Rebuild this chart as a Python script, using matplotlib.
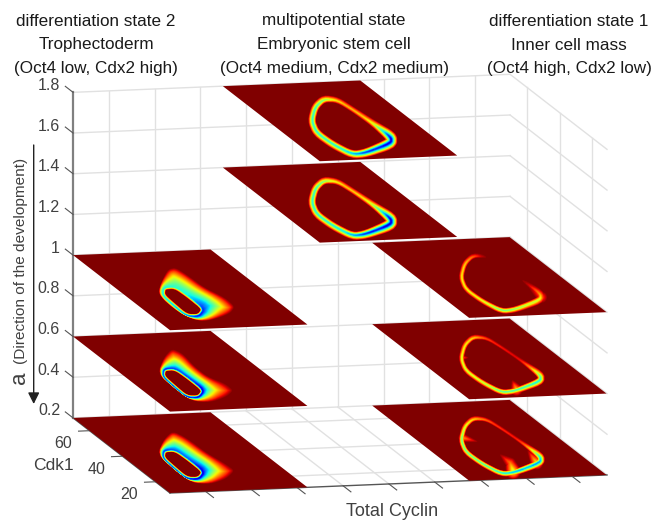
"""Potential landscape slices along the development parameter a.
"""
import matplotlib
matplotlib.use("Agg")
import matplotlib.pyplot as plt
import numpy as np
from matplotlib.patches import FancyArrowPatch
from matplotlib.path import Path
from mpl_toolkits.mplot3d import proj3d

plt.rcParams["font.family"] = ["Liberation Sans", "DejaVu Sans"]

# axis ticks and limits
x_ticks = [1, 2, 3, 4, 5, 6, 7, 8, 9]
y_ticks = [20, 40, 60]
z_ticks = [0.2, 0.4, 0.6, 0.8, 1.0, 1.2, 1.4, 1.6, 1.8]
z_labels = ["0.2", "0.4", "0.6", "0.8", "1", "1.2", "1.4", "1.6", "1.8"]
x_lim = (0.22, 9.76)
y_lim = (11.2, 70.0)

# where the slices start on the Total Cyclin axis (each one is 3 wide)
col_start = {"left": 0.22, "mid": 3.49, "right": 6.75}

# cycle of the stem cell / inner cell mass states, as fraction of a slice
cycle_u = [.581, .453, .307, .234, .242, .288, .396, .655, .707, .703, .688, .665]
cycle_v = [.781, .687, .517, .365, .208, .070, .085, .194, .266, .446, .626, .762]

# band widths below are in pixels of the picture
mid18_depth = [.48, .36, .35, .35, .35, .28, .12, .03, .06, .60, .68, .65]
mid14_depth = [.48, .36, .34, .34, .34, .26, .10, .02, .04, .55, .66, .63]
mid_out = [4.5, 4.5, 4.5, 4.5, 4.5, 4.5, 5.0, 6.5, 6.5, 4.0, 3.2, 3.5]
mid_in = [3.0, 3.5, 3.5, 3.5, 3.5, 3.5, 4.0, 5.5, 5.5, 3.0, 2.5, 2.5]

right10_depth = [.78, .64, .60, .60, .58, .42, .48, .55, .72, 1.0, 1.0, 1.0]
right06_depth = [.64, .60, .56, .54, .54, .40, .38, .30, .45, .88, .86, .82]
right02_depth = [.64, .55, .42, .42, .40, .34, .24, .20, .34, .84, .84, .78]
right_out = [3.5, 3.2, 3.0, 3.0, 3.0, 3.2, 3.5, 4.5, 4.5, 2.5, 2.2, 2.5]
right_in = [2.0, 2.4, 2.4, 2.4, 2.4, 2.4, 2.6, 3.2, 3.2, 1.8, 1.6, 1.8]

# spurs on the right column: tc, cdk, depth, half width
spurs10 = [([.686, .689], [.223, .380], [.80, 1.0], [6.0, 1.0])]
spurs06 = [([.337, .371], [.529, .525], [.85, 1.0], [2.5, 0.8]),
           ([.414, .472], [.098, .228], [.66, 1.0], [6.5, 1.2])]
spurs02 = [([.338, .413], [.547, .483], [.72, 1.0], [4.5, 0.8]),
           ([.388, .442, .447], [.095, .203, .329], [.55, .76, 1.0], [8.0, 6.0, 0.8]),
           ([.626, .680], [.191, .367], [.62, 1.0], [7.0, 1.0])]

# trophectoderm state: valley round the hole and the outer rim of the basin
hole_u = [.338, .423, .432, .428, .325, .241, .250, .262]
hole_v = [.543, .547, .425, .255, .162, .171, .325, .445]
hole_in = [2.2, 2.2, 2.2, 2.2, 2.2, 2.2, 2.2, 2.2]

left10_depth = [.35, .40, .35, .15, .10, .20, .30, .33]
left06_depth = [.08, .15, .15, .03, .02, .04, .08, .08]
left02_depth = [.12, .20, .20, .05, .02, .06, .10, .10]

left10_rim_u = [.252, .384, .531, .600, .615, .620, .675, .665, .560, .365, .275, .225, .222]
left10_rim_v = [.480, .630, .775, .795, .705, .525, .385, .265, .172, .100, .105, .195, .360]
left06_rim_u = [.257, .435, .580, .612, .575, .575, .640, .635, .520, .359, .245, .240]
left06_rim_v = [.489, .685, .805, .735, .560, .424, .330, .235, .150, .092, .125, .305]
left02_rim_u = [.262, .432, .575, .610, .615, .650, .655, .515, .356, .243, .238]
left02_rim_v = [.500, .680, .790, .695, .490, .345, .250, .145, .088, .120, .300]

GRID = 280
uu, vv = np.meshgrid(np.linspace(0, 1, GRID), np.linspace(0, 1, GRID))
uu = uu.astype(np.float32)
vv = vv.astype(np.float32)
grid_pts = np.column_stack([uu.ravel(), vv.ravel()])


def to_slice_px(u, v):
    # a slice as it looks on screen, so widths are the same all round the loop
    return 138 * u - 97 * v, 5.5 * u + 72 * v


def smooth_closed(*cols, rounds=2, step=8, cut=0.2):
    """Round off a closed outline, carrying the extra columns along."""
    pts = np.column_stack(cols).astype(float)
    for _ in range(rounds):
        nxt = np.roll(pts, -1, axis=0)
        pair = [(1 - cut) * pts + cut * nxt, cut * pts + (1 - cut) * nxt]
        pts = np.stack(pair, axis=1).reshape(-1, pts.shape[1])
    nxt = np.roll(pts, -1, axis=0)
    fine = [pts + (nxt - pts) * t for t in np.arange(step) / step]
    return np.stack(fine, axis=1).reshape(-1, pts.shape[1])


def nearest(path_u, path_v):
    gx, gy = to_slice_px(uu, vv)
    px, py = to_slice_px(np.asarray(path_u), np.asarray(path_v))
    dist = np.hypot(gx[..., None] - px.astype(np.float32), gy[..., None] - py.astype(np.float32))
    return dist.argmin(axis=-1), dist.min(axis=-1)


def band_field(u, v, depth, w_out, w_in, spurs=()):
    loop = smooth_closed(u, v, depth, w_out, w_in)
    idx, dist = nearest(loop[:, 0], loop[:, 1])
    inside = Path(loop[:, :2]).contains_points(grid_pts).reshape(uu.shape)
    width = np.where(inside, loop[idx, 4], loop[idx, 3])
    low = loop[idx, 2]
    field = low + (1 - low) * np.clip(dist / width, 0, 1)
    for su, sv, sd, sw in spurs:
        t = np.linspace(0, len(su) - 1, 60)
        k = np.arange(len(su))
        line_u, line_v = np.interp(t, k, su), np.interp(t, k, sv)
        line_d, line_w = np.interp(t, k, sd), np.interp(t, k, sw)
        i2, d2 = nearest(line_u, line_v)
        spur = line_d[i2] + (1 - line_d[i2]) * np.clip(d2 / line_w[i2], 0, 1)
        field = np.minimum(field, spur)
    return field


def basin_field(u, v, depth, w_in, rim_u, rim_v, power):
    loop = smooth_closed(u, v, depth, w_in)
    rim = smooth_closed(rim_u, rim_v)
    idx, d_hole = nearest(loop[:, 0], loop[:, 1])
    _, d_rim = nearest(rim[:, 0], rim[:, 1])
    in_hole = Path(loop[:, :2]).contains_points(grid_pts).reshape(uu.shape)
    in_rim = Path(rim[:, :2]).contains_points(grid_pts).reshape(uu.shape)
    low = loop[idx, 2]
    t = d_hole / (d_hole + d_rim + 1e-6)
    field = low + (1 - low) * t ** power
    inner = low + (1 - low) * np.clip(d_hole / loop[idx, 3], 0, 1)
    field = np.where(in_hole, inner, field)
    return np.where(in_rim | in_hole, field, 1.0)


slices = [
    ("left", 0.2, basin_field(hole_u, hole_v, left02_depth, hole_in, left02_rim_u, left02_rim_v, 1.05)),
    ("right", 0.2, band_field(cycle_u, cycle_v, right02_depth, right_out, right_in, spurs02)),
    ("left", 0.6, basin_field(hole_u, hole_v, left06_depth, hole_in, left06_rim_u, left06_rim_v, .85)),
    ("right", 0.6, band_field(cycle_u, cycle_v, right06_depth, right_out, right_in, spurs06)),
    ("left", 1.0, basin_field(hole_u, hole_v, left10_depth, hole_in, left10_rim_u, left10_rim_v, 1.5)),
    ("right", 1.0, band_field(cycle_u, cycle_v, right10_depth, right_out, right_in, spurs10)),
    ("mid", 1.4, band_field(cycle_u, cycle_v, mid14_depth, mid_out, mid_in)),
    ("mid", 1.8, band_field(cycle_u, cycle_v, mid18_depth, mid_out, mid_in)),
]

W, H = 655, 521
fig = plt.figure(figsize=(W / 100, H / 100), dpi=100)
SIDE = 760
ax = fig.add_axes([(340 - SIDE / 2) / W, (H - 283.5 - SIDE / 2) / H, SIDE / W, SIDE / H],
                  projection="3d", computed_zorder=False)
ax.set_proj_type("ortho")
ax.view_init(elev=10.3, azim=-103)
ax.set_xlim(*x_lim, view_margin=0)
ax.set_ylim(*y_lim, view_margin=0)
ax.set_zlim(z_ticks[0], z_ticks[-1], view_margin=0)
box = (448.6, 431.0, 331.0)
ax.set_box_aspect(box)
ax.set_axis_off()


def to_px(x, y, z):
    ax.apply_aspect()
    xs, ys, _ = proj3d.proj_transform(x, y, z, ax.get_proj())
    return ax.transData.transform((xs, ys))


# scale and shift so the box lands where it sits in the picture
x0, x1 = x_lim
y0, y1 = y_lim
z0, z1 = z_ticks[0], z_ticks[-1]
span = to_px(x1, y0, z0)[0] - to_px(x0, y0, z0)[0]
ax.set_box_aspect(box, zoom=437 / span)
off = np.array([170, H - 493]) - to_px(x0, y0, z0)
pos = ax.get_position(original=True)
ax.set_position([pos.x0 + off[0] / W, pos.y0 + off[1] / H, pos.width, pos.height])

GRID_C = "#e1e1e1"
for x in x_ticks:
    ax.plot([x, x], [y0, y1], [z0, z0], color=GRID_C, lw=1, zorder=1)
    ax.plot([x, x], [y1, y1], [z0, z1], color=GRID_C, lw=1, zorder=1)
for y in y_ticks:
    ax.plot([x0, x1], [y, y], [z0, z0], color=GRID_C, lw=1, zorder=1)
    ax.plot([x1, x1], [y, y], [z0, z1], color=GRID_C, lw=1, zorder=1)
for z in z_ticks:
    ax.plot([x0, x1], [y1, y1], [z, z], color=GRID_C, lw=1, zorder=1)
    ax.plot([x1, x1], [y0, y1], [z, z], color=GRID_C, lw=1, zorder=1)

AXIS_C = "#555555"
ax.plot([x0, x1], [y0, y0], [z0, z0], color=AXIS_C, lw=1, zorder=2)
ax.plot([x0, x0], [y0, y1], [z0, z0], color=AXIS_C, lw=1, zorder=2)
ax.plot([x0, x0], [y1, y1], [z0, z1], color="#808080", lw=1.6, zorder=2)
for x in x_ticks:
    ax.plot([x, x], [y0, y0 - 4.7], [z0, z0], color=AXIS_C, lw=0.8, zorder=2)
for y in y_ticks:
    ax.plot([x0, x0 - 0.24], [y, y], [z0, z0], color=AXIS_C, lw=0.8, zorder=2)
for z in z_ticks:
    ax.plot([x0, x0], [y1, y1 + 4.7], [z, z], color=AXIS_C, lw=0.8, zorder=2)

# each level is painted as a whole region over the one before, so thin
# bands can not leave gaps between neighbouring levels
jet = plt.get_cmap("jet")
levels = np.linspace(1, 0.02, 40)
for n, (col, z, field) in enumerate(slices):
    xx = col_start[col] + 3.0 * uu
    yy = y0 + (y1 - y0) * vv
    clipped = np.clip(field, 0, .999)
    for k, lev in enumerate(levels):
        if clipped.min() >= lev:
            continue
        ax.contourf(xx, yy, clipped, levels=[-1, lev], colors=[jet(lev)], zdir="z", offset=z,
                    zorder=5 + n + k / 100, antialiased=True)

TICK_C = "#404040"


def tick_label(x, y, z, text, ha):
    px, py = to_px(x, y, z)
    fig.text(px / W, py / H, text, ha=ha, va="center", fontsize=11.5, color=TICK_C)


for z, lab in zip(z_ticks, z_labels):
    tick_label(x0, y1 + 7.9, z - 0.015, lab, "right")
for y in y_ticks:
    tick_label(x0 - 0.57, y, z0 - 0.059, str(y), "center")

TXT = "#1a1a1a"
titles = [
    (96, ["differentiation state 2", "Trophectoderm", "(Oct4 low, Cdx2 high)"]),
    (334, ["multipotential state", "Embryonic stem cell", "(Oct4 medium, Cdx2 medium)"]),
    (569, ["differentiation state 1", "Inner cell mass", "(Oct4 high, Cdx2 low)"]),
]
for cx, lines in titles:
    for py, line in zip([21, 45, 68], lines):
        fig.text(cx / W, 1 - py / H, line, ha="center", va="center", fontsize=12.3, color=TXT)

fig.text(392 / W, 1 - 512 / H, "Total Cyclin", ha="center", va="center", fontsize=13, color=TICK_C)
fig.text(53 / W, 1 - 466 / H, "Cdk1", ha="center", va="center", fontsize=12.6, color=TICK_C)
fig.text(21 / W, 1 - 261 / H, "(Direction of the development)", rotation=90, ha="center",
         va="center", fontsize=11.1, color=TICK_C)
fig.text(20 / W, 1 - 378 / H, "a", rotation=90, ha="center", va="center", fontsize=16, color=TICK_C)

fig.add_artist(FancyArrowPatch((33.7 / W, 1 - 145 / H), (33.7 / W, 1 - 404 / H),
                               transform=fig.transFigure, arrowstyle="-|>", mutation_scale=17,
                               color="#222222", lw=1, shrinkA=0, shrinkB=0))

fig.savefig("out.png", dpi=100)
